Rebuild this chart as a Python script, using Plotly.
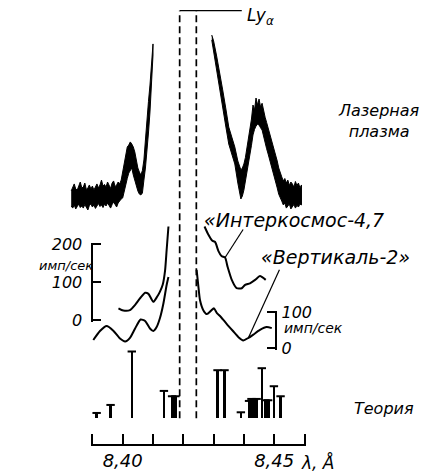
import plotly.graph_objects as go

# ---------------------------------------------------------------- data
# Laser-produced plasma, relative intensity. The record is very noisy, so it
# is stored as the upper / lower edge of the trace.
LASER_BLUE_WL = [8.3830, 8.3835, 8.3840, 8.3845, 8.3850, 8.3855, 8.3860, 8.3865,
                 8.3870, 8.3875, 8.3880, 8.3885, 8.3890, 8.3895, 8.3900, 8.3905,
                 8.3910, 8.3915, 8.3920, 8.3925, 8.3930, 8.3935, 8.3940, 8.3945,
                 8.3950, 8.3955, 8.3960, 8.3965, 8.3970, 8.3975, 8.3980, 8.3985,
                 8.3990, 8.3995, 8.4000, 8.4005, 8.4010, 8.4015, 8.4020, 8.4025,
                 8.4030, 8.4035, 8.4040, 8.4045, 8.4050, 8.4055, 8.4060, 8.4065,
                 8.4070, 8.4075, 8.4080, 8.4085, 8.4090, 8.4095, 8.4100]
LASER_BLUE_HI = [0.109, 0.131, 0.149, 0.120, 0.114, 0.137, 0.160, 0.126, 0.131,
                 0.154, 0.117, 0.126, 0.143, 0.120, 0.137, 0.114, 0.131, 0.149,
                 0.126, 0.143, 0.171, 0.137, 0.146, 0.131, 0.160, 0.140, 0.123,
                 0.154, 0.166, 0.134, 0.143, 0.160, 0.149, 0.171, 0.217, 0.270,
                 0.326, 0.360, 0.371, 0.389, 0.377, 0.360, 0.331, 0.280, 0.240,
                 0.217, 0.200, 0.226, 0.286, 0.400, 0.526, 0.620, 0.714, 0.830,
                 0.949]
LASER_BLUE_LO = [0.023, 0.011, 0.029, 0.006, 0.020, 0.034, 0.014, 0.023, 0.011,
                 0.031, 0.017, 0.000, 0.026, 0.034, 0.017, 0.029, 0.009, 0.023,
                 0.037, 0.020, 0.029, 0.014, 0.034, 0.023, 0.040, 0.026, 0.011,
                 0.031, 0.046, 0.029, 0.017, 0.040, 0.051, 0.063, 0.069, 0.100,
                 0.137, 0.180, 0.211, 0.229, 0.240, 0.200, 0.171, 0.137, 0.109,
                 0.091, 0.086, 0.097, 0.171, 0.240, 0.331, 0.440, 0.560, 0.700,
                 0.886]

LASER_RED_WL = [8.4294, 8.4300, 8.4310, 8.4320, 8.4330, 8.4340, 8.4350, 8.4360,
                8.4370, 8.4380, 8.4390, 8.4395, 8.4400, 8.4405, 8.4410, 8.4415,
                8.4420, 8.4425, 8.4430, 8.4435, 8.4440, 8.4445, 8.4450, 8.4455,
                8.4460, 8.4465, 8.4470, 8.4475, 8.4480, 8.4485, 8.4490, 8.4495,
                8.4500, 8.4505, 8.4510, 8.4515, 8.4520, 8.4525, 8.4530, 8.4535,
                8.4540, 8.4545, 8.4550, 8.4555, 8.4560, 8.4565, 8.4570, 8.4575,
                8.4580, 8.4585, 8.4590]
LASER_RED_HI = [1.000, 0.966, 0.880, 0.789, 0.686, 0.583, 0.474, 0.417, 0.360,
                0.280, 0.229, 0.240, 0.263, 0.300, 0.350, 0.400, 0.460, 0.520,
                0.600, 0.571, 0.640, 0.600, 0.634, 0.589, 0.610, 0.560, 0.530,
                0.500, 0.470, 0.440, 0.410, 0.370, 0.345, 0.310, 0.280, 0.240,
                0.210, 0.189, 0.166, 0.180, 0.154, 0.171, 0.140, 0.160, 0.149,
                0.131, 0.163, 0.140, 0.154, 0.126, 0.143]
LASER_RED_LO = [0.971, 0.897, 0.800, 0.697, 0.583, 0.480, 0.377, 0.320, 0.263,
                0.154, 0.063, 0.080, 0.114, 0.170, 0.223, 0.270, 0.314, 0.370,
                0.429, 0.460, 0.480, 0.490, 0.486, 0.470, 0.457, 0.420, 0.389,
                0.350, 0.320, 0.290, 0.257, 0.230, 0.200, 0.160, 0.126, 0.090,
                0.069, 0.051, 0.029, 0.040, 0.011, 0.023, 0.034, 0.006, 0.020,
                0.031, 0.011, 0.026, 0.017, 0.034, 0.029]

# "Интеркосмос-4,7" solar spectrum, imp/s
IK_BLUE_WL = [8.3986, 8.4002, 8.4024, 8.4041, 8.4057, 8.4074, 8.4085, 8.4101,
              8.4114, 8.4123, 8.4132, 8.4140, 8.4145, 8.4151]
IK_BLUE = [31, 25, 26, 40, 57, 72, 69, 48, 62, 75, 93, 132, 185, 247]
IK_RED_WL = [8.4270, 8.4283, 8.4295, 8.4305, 8.4316, 8.4326, 8.4338, 8.4346,
             8.4360, 8.4376, 8.4393, 8.4404, 8.4420, 8.4437, 8.4453, 8.4472]
IK_RED = [247, 225, 210, 206, 182, 169, 165, 141, 106, 84, 84, 93, 97, 106,
          116, 106]

# "Вертикаль-2" solar spectrum, imp/s
VK_BLUE_WL = [8.3903, 8.3925, 8.3947, 8.3969, 8.3991, 8.4008, 8.4024, 8.4041,
              8.4059, 8.4074, 8.4090, 8.4101, 8.4112, 8.4123, 8.4134, 8.4145,
              8.4151]
VK_BLUE = [23, 48, 62, 49, 27, 19, 29, 55, 80, 76, 55, 48, 59, 84, 123, 176, 198]
VK_RED_WL = [8.4244, 8.4250, 8.4255, 8.4266, 8.4278, 8.4291, 8.4301, 8.4311,
             8.4324, 8.4343, 8.4364, 8.4382, 8.4398, 8.4415, 8.4431, 8.4453,
             8.4475, 8.4492]
VK_RED = [218, 170, 134, 106, 95, 104, 111, 98, 87, 68, 48, 31, 22, 29, 38, 51,
          59, 56]

# calculated satellite lines, relative intensity
THEORY_WL = [8.3914, 8.3960, 8.4030, 8.4136, 8.4163, 8.4174, 8.4313, 8.4336,
             8.4390, 8.4417, 8.4425, 8.4433, 8.4442, 8.4459, 8.4471, 8.4480,
             8.4499, 8.4521]
THEORY_I = [0.08, 0.20, 1.00, 0.41, 0.33, 0.33, 0.72, 0.72, 0.09, 0.26, 0.29,
            0.27, 0.29, 0.75, 0.27, 0.27, 0.48, 0.33]

LY_ALPHA_WL = [8.4188, 8.4243]

AXIS_TICKS = [8.39, 8.40, 8.41, 8.42, 8.43, 8.44, 8.45, 8.46]
AXIS_LABEL_VALS = [8.40, 8.45]
AXIS_LABEL_TEXT = ["8,40", "8,45"]
IK_SCALE_TICKS = [0, 100, 200]
VK_SCALE_TICKS = [0, 100]

# ---------------------------------------------------------------- geometry
W, H = 431, 472
AX_L, AX_R, AX_Y = 92.4, 304.5, 444.0          # wavelength scale, px
WL_PER_PX = (AXIS_TICKS[-1] - AXIS_TICKS[0]) / (AX_R - AX_L)
END_PAD = 1.5        # px of axis line kept beyond the end ticks
FONT = "DejaVu Sans"
BLACK = "black"


def px(x):
    return x / W


def py(y):
    return 1 - y / H


def full_range(zero_py, px_per_unit, height=H):
    """Range of an axis spanning `height` px whose zero sits at zero_py."""
    return [-(height - zero_py) / px_per_unit, zero_py / px_per_unit]


def scale_bar(lo_py, hi_py, ticks):
    """Domain / range of a short vertical scale bar from ticks[0] to ticks[-1]."""
    per_px = (ticks[-1] - ticks[0]) / (lo_py - hi_py)
    return dict(domain=[py(lo_py + END_PAD), py(hi_py - END_PAD)],
                range=[ticks[0] - END_PAD * per_px, ticks[-1] + END_PAD * per_px],
                tickvals=ticks)


def ifont(size):
    return dict(family=FONT, size=size, color=BLACK, style="italic")


fig = go.Figure()

# laser plasma record
for wl, hi, lo in [(LASER_BLUE_WL, LASER_BLUE_HI, LASER_BLUE_LO),
                   (LASER_RED_WL, LASER_RED_HI, LASER_RED_LO)]:
    fig.add_trace(go.Scatter(x=wl + wl[::-1], y=hi + lo[::-1], mode="lines",
                             fill="toself", fillcolor=BLACK,
                             line=dict(color=BLACK, width=1),
                             xaxis="x", yaxis="y", hoverinfo="skip"))

# satellite spectra
for wl, val, ax in [(IK_BLUE_WL, IK_BLUE, "y2"), (IK_RED_WL, IK_RED, "y2"),
                    (VK_BLUE_WL, VK_BLUE, "y3"), (VK_RED_WL, VK_RED, "y3")]:
    fig.add_trace(go.Scatter(x=wl, y=val, mode="lines", xaxis="x", yaxis=ax,
                             line=dict(color=BLACK, width=2, shape="spline",
                                       smoothing=0.6)))

# theory sticks with T-caps
fig.add_trace(go.Bar(x=THEORY_WL, y=THEORY_I, width=0.0009, marker_color=BLACK,
                     marker_line_width=0, xaxis="x2", yaxis="y4"))
fig.add_trace(go.Scatter(x=THEORY_WL, y=THEORY_I, mode="markers", xaxis="x2",
                         yaxis="y4",
                         marker=dict(symbol="line-ew", size=6,
                                     line=dict(color=BLACK, width=2))))

# scale-bar axes carry no data
fig.add_trace(go.Scatter(x=[], y=[], xaxis="x", yaxis="y5"))
fig.add_trace(go.Scatter(x=[], y=[], xaxis="x", yaxis="y6"))

# Ly-alpha doublet markers
LY_TOP, LY_BOTTOM = 10.7, 418.3
LY_LABEL_WL = 8.4393
shapes = []
for wl in LY_ALPHA_WL:
    shapes.append(dict(type="line", xref="x", yref="paper", x0=wl, x1=wl,
                       y0=py(LY_BOTTOM), y1=py(LY_TOP),
                       line=dict(color=BLACK, width=1.7, dash="7px,4px")))
shapes.append(dict(type="line", xref="x", yref="paper", x0=LY_ALPHA_WL[0],
                   x1=LY_LABEL_WL, y0=py(LY_TOP), y1=py(LY_TOP),
                   line=dict(color=BLACK, width=1.3)))

# leader lines from labels to curves
for wl, val, yref, dx, dy in [(IK_RED_WL[6], IK_RED[6], "y2", 18, 28),
                              (VK_RED_WL[13], VK_RED[13], "y3", 31, 68)]:
    shapes.append(dict(type="line", xref="x", yref=yref,
                       xsizemode="pixel", xanchor=wl, x0=0, x1=dx,
                       ysizemode="pixel", yanchor=val, y0=0, y1=dy,
                       line=dict(color=BLACK, width=1.2)))

annotations = [
    dict(x=LY_LABEL_WL, y=py(16), xref="x", xanchor="left", xshift=3,
         text="Ly<sub>α</sub>", font=ifont(17)),
    dict(x=px(379), y=py(121), text="Лазерная<br>плазма", font=ifont(16)),
    dict(x=px(202), y=py(220), xanchor="left", text="«Интеркосмос-4,7",
         font=ifont(19)),
    dict(x=px(259), y=py(257), xanchor="left", text="«Вертикаль-2»",
         font=ifont(19)),
    dict(x=px(66), y=py(265), text="имп/сек", font=ifont(13)),
    dict(x=px(282), y=py(328), xanchor="left", text="имп/сек", font=ifont(14)),
    dict(x=px(384), y=py(408), text="Теория", font=ifont(16)),
    dict(x=px(299), y=py(462), xanchor="left", text="λ, Å", font=ifont(17)),
]
for a in annotations:
    a.setdefault("xref", "paper")
    a.setdefault("yref", "paper")
    a.setdefault("xanchor", "center")
    a.setdefault("yanchor", "middle")
    a.setdefault("showarrow", False)

hidden = dict(visible=False, showgrid=False, zeroline=False)
bar_axis = dict(showline=True, linecolor=BLACK, linewidth=1.6, ticks="inside",
                ticklen=8, tickwidth=1.6, tickcolor=BLACK, tickfont=ifont(16),
                showgrid=False, zeroline=False, automargin=False,
                anchor="free")
wl_pad = END_PAD * WL_PER_PX

fig.update_layout(
    width=W, height=H, autosize=False,
    margin=dict(l=0, r=0, t=0, b=0, pad=0),
    paper_bgcolor="white", plot_bgcolor="rgba(0,0,0,0)",
    showlegend=False, bargap=0,
    shapes=shapes, annotations=annotations,
    xaxis=dict(hidden, domain=[0, 1],
               range=[AXIS_TICKS[0] - AX_L * WL_PER_PX,
                      AXIS_TICKS[0] + (W - AX_L) * WL_PER_PX]),
    xaxis2=dict(domain=[px(AX_L - END_PAD), px(AX_R + END_PAD)],
                range=[AXIS_TICKS[0] - wl_pad, AXIS_TICKS[-1] + wl_pad],
                anchor="y4", showline=True, linecolor=BLACK, linewidth=1.6,
                ticks="inside", ticklen=10, tickwidth=1.6, tickcolor=BLACK,
                tickvals=AXIS_LABEL_VALS, ticktext=AXIS_LABEL_TEXT,
                minor=dict(tickvals=AXIS_TICKS, ticks="inside", ticklen=10,
                           tickwidth=1.6, tickcolor=BLACK, showgrid=False),
                tickfont=ifont(18), showgrid=False, zeroline=False,
                automargin=False),
    yaxis=dict(hidden, domain=[0, 1], anchor="x", range=full_range(210, 175)),
    yaxis2=dict(hidden, overlaying="y", anchor="x",
                range=full_range(320, 0.3785)),
    yaxis3=dict(hidden, overlaying="y", anchor="x",
                range=full_range(348.3, 0.36)),
    yaxis4=dict(hidden, domain=[py(AX_Y), 1], anchor="x2",
                range=full_range(418.3, 66.8, height=AX_Y)),
    yaxis5=dict(bar_axis, **scale_bar(320, 244.3, IK_SCALE_TICKS),
                position=px(92.3), side="left", ticklabelstandoff=6),
    yaxis6=dict(bar_axis, **scale_bar(348.3, 312.3, VK_SCALE_TICKS),
                position=px(275.5), side="right", ticklabelstandoff=2),
)

fig.write_html("out.html")
